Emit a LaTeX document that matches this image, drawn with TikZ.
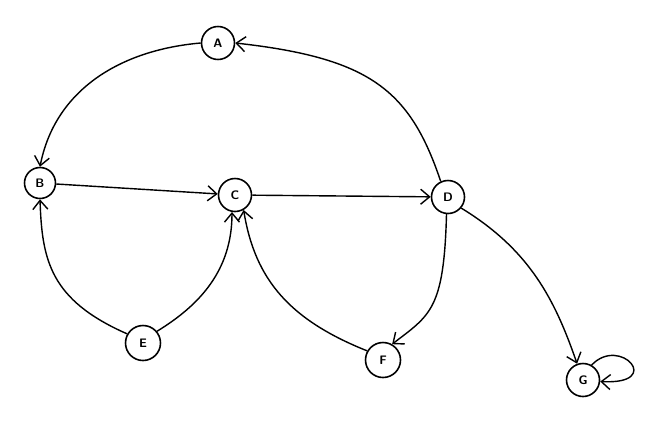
\documentclass[tikz,border=0pt]{standalone}
\usepackage{tikz}
\usetikzlibrary{arrows.meta}

\begin{document}
\begin{tikzpicture}[font=\sffamily\bfseries\scriptsize,
  vx/.style={circle,draw=black,line width=0.9pt,fill=white,inner sep=1pt,minimum size=6.6mm},
  arr/.style={line width=0.8pt,-{Straight Barb[length=1.8mm,width=3mm]}}]
  \useasboundingbox (0,0) rectangle (13.26,8.82);
  \node[vx] (A) at (4.36,7.96) {A};
  \node[vx,minimum size=6.2mm] (B) at (0.80,5.16) {B};
  \node[vx] (C) at (4.70,4.92) {C};
  \node[vx] (D) at (8.96,4.88) {D};
  \node[vx,minimum size=7mm] (E) at (2.86,1.96) {E};
  \node[vx,minimum size=7mm] (F) at (7.66,1.62) {F};
  \node[vx] (G) at (11.66,1.22) {G};
  \draw[arr] (D.115) .. controls (8.20,7.02) and (7.40,7.66) .. (A.east);
  \draw[arr] (A.west) .. controls (2.40,7.82) and (1.10,7.02) .. (B.north);
  \draw[arr] (B) -- (C);
  \draw[arr] (C) -- (D);
  \draw[arr] (E.150) .. controls (1.00,2.82) and (0.84,3.62) .. (B.south);
  \draw[arr] (E.40) .. controls (4.00,2.72) and (4.64,3.42) .. (C.-100);
  \draw[arr] (F.150) .. controls (5.80,2.42) and (5.10,3.22) .. (C.-60);
  \draw[arr] (D.-95) .. controls (8.88,2.62) and (8.60,2.52) .. (F.60);
  \draw[arr] (D.-40) .. controls (10.60,3.82) and (11.10,2.82) .. (G.110);
  \draw[arr] (G.60) .. controls (12.40,2.12) and (13.30,1.12) .. (G.-5);
\end{tikzpicture}
\end{document}
